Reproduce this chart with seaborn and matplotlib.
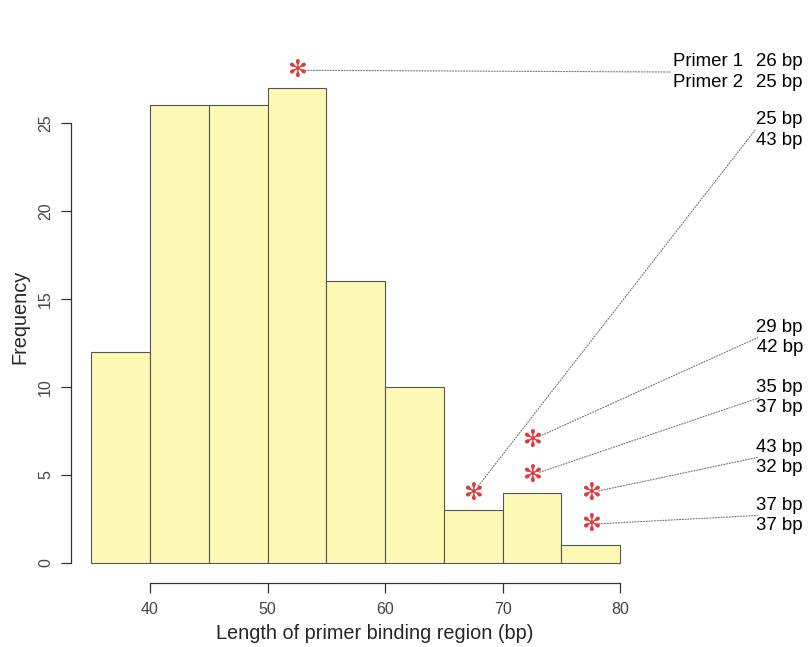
import matplotlib
matplotlib.use("Agg")
import matplotlib.pyplot as plt
import seaborn as sns
import numpy as np

# ---- data ----
bin_edges = [35, 40, 45, 50, 55, 60, 65, 70, 75, 80]
bin_centers = [37.5, 42.5, 47.5, 52.5, 57.5, 62.5, 67.5, 72.5, 77.5]
counts = [12, 26, 26, 27, 16, 10, 3, 4, 1]

star_x = [52.5, 67.5, 72.5, 72.5, 77.5, 77.5]
star_y = [28, 4, 7, 5, 4, 2.2]
label_end_x = [84.3, 91.5, 91.7, 91.9, 91.7, 91.7]
label_end_y = [27.9, 24.6, 12.8, 9.4, 6.0, 2.7]
label_primer1 = ["26 bp", "25 bp", "29 bp", "35 bp", "43 bp", "37 bp"]
label_primer2 = ["25 bp", "43 bp", "42 bp", "37 bp", "32 bp", "37 bp"]

x_ticks = [40, 50, 60, 70, 80]
y_ticks = [0, 5, 10, 15, 20, 25]

sns.set_theme(style="white")
plt.rcParams['font.family'] = ['Liberation Sans', 'DejaVu Sans']

fig = plt.figure(figsize=(8.11, 6.47), dpi=100)
ax = fig.add_axes([80 / 811, 1 - 570 / 647, 720 / 811, 530 / 647])

sns.histplot(x=bin_centers, weights=counts, bins=bin_edges, ax=ax,
             color="#FEF9B4", edgecolor="#555555", linewidth=0.8, alpha=1.0)

ax.set_xlim(34.04, 95.32)
ax.set_ylim(-0.4, 29.72)

for s in ["top", "right"]:
    ax.spines[s].set_visible(False)
ax.spines["bottom"].set_bounds(40, 80)
ax.spines["left"].set_bounds(0, 25)
ax.spines["bottom"].set_position(("outward", 9.4))
ax.spines["left"].set_position(("outward", 6.5))
for s in ["bottom", "left"]:
    ax.spines[s].set_color("#333333")
    ax.spines[s].set_linewidth(0.9)

ax.set_xticks(x_ticks)
ax.set_yticks(y_ticks)
ax.tick_params(axis="both", direction="out", length=7, width=0.9,
               color="#333333", labelcolor="#444444", labelsize=11.5,
               bottom=True, left=True)
ax.tick_params(axis="x", pad=7)
ax.tick_params(axis="y", pad=6)
for lab in ax.get_yticklabels():
    lab.set_rotation(90)
    lab.set_va("center")

ax.set_xlabel("Length of primer binding region (bp)", fontsize=14.3,
              va="center", ha="center")
ax.xaxis.set_label_coords(0.41, -0.119)
ax.set_ylabel("Frequency", fontsize=14.3, va="center", ha="center")
ax.yaxis.set_label_coords(-0.083, 0.477)

# connector lines
for sx, sy, ex, ey in zip(star_x, star_y, label_end_x, label_end_y):
    ax.annotate("", xy=(ex, ey), xytext=(sx, sy),
                arrowprops=dict(arrowstyle="-", linestyle=(0, (1, 1.5)),
                                color="#777777", lw=0.8,
                                shrinkA=6, shrinkB=0))

# asterisks
for sx, sy in zip(star_x, star_y):
    ax.text(sx, sy, "✻", color="#E0393E", fontsize=17,
            ha="center", va="center", family="DejaVu Sans", zorder=5)

# labels
bp_right = 95.57
primer_right = 90.47
for i, (ey, p1, p2) in enumerate(zip(label_end_y, label_primer1, label_primer2)):
    ax.text(bp_right, ey, p1 + "\n" + p2, ha="right", va="center",
            fontsize=13.4, color="black", linespacing=1.27, clip_on=False)
    if i == 0:
        ax.text(primer_right, ey, "Primer 1\nPrimer 2", ha="right",
                va="center", fontsize=13.4, color="black", linespacing=1.27,
                clip_on=False)

fig.savefig("out.png", dpi=100)
